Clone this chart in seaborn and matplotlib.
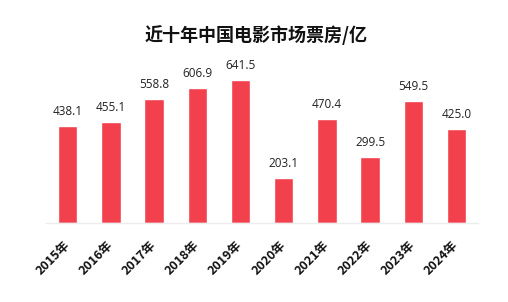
import numpy as np
import pandas as pd
import seaborn as sns
import matplotlib.pyplot as plt

sns.set_style("white")
plt.rcParams['font.family'] = ['Noto Sans CJK SC', 'DejaVu Sans']

# data
years = ["2015年", "2016年", "2017年", "2018年", "2019年",
         "2020年", "2021年", "2022年", "2023年", "2024年"]
box_office = [438.1, 455.1, 558.8, 606.9, 641.5, 203.1, 470.4, 299.5, 549.5, 425.0]

df = pd.DataFrame({"year": years, "value": box_office})

fig = plt.figure(figsize=(5.08, 3.02), dpi=100)
ax = fig.add_axes([0.0906, 0.26, 0.8504, 0.54])

sns.barplot(data=df, x="year", y="value", color="#f2404c", saturation=1,
            width=0.45, ax=ax)

# value labels above bars
for i, v in enumerate(box_office):
    ax.text(i, v + 36, f"{v:.1f}", ha="center", va="bottom", fontsize=8.5,
            color="#222222", family="Open Sans")

ax.set_xlim(-0.5, 9.5)
ax.set_ylim(0, 731)
ax.set_yticks([])
ax.set_xlabel("")
ax.set_ylabel("")
for s in ["top", "right", "left"]:
    ax.spines[s].set_visible(False)
ax.spines["bottom"].set_color("#ececec")
ax.spines["bottom"].set_linewidth(1)
ax.tick_params(axis="x", length=0, pad=14)
plt.setp(ax.get_xticklabels(), rotation=45, ha="right", va="center",
         rotation_mode="anchor", fontsize=9, fontweight="bold", color="#111111")

fig.text(0.505, 0.885, "近十年中国电影市场票房/亿", ha="center", va="center",
         fontsize=13, fontweight="bold", color="#111111")

fig.savefig("out.png", dpi=100, facecolor="white")
